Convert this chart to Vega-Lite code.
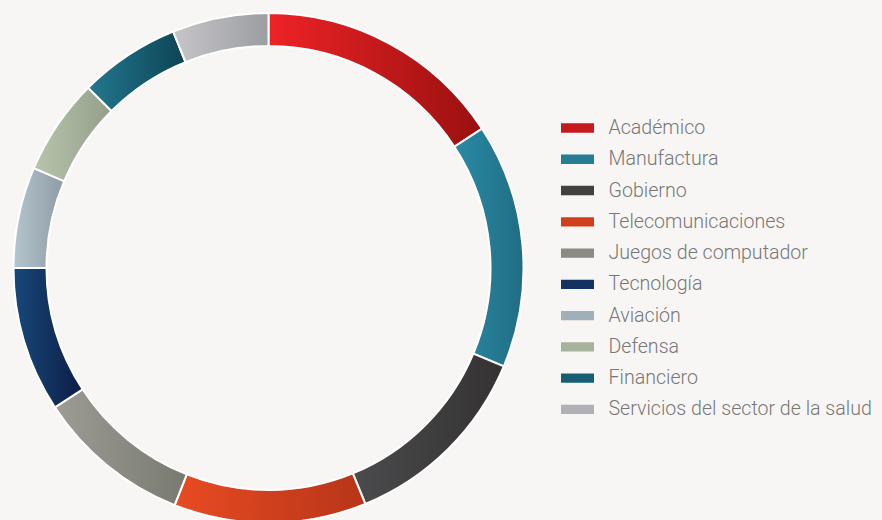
{
  "$schema": "https://vega.github.io/schema/vega-lite/v6.json",
  "autosize": {"type": "none"},
  "width": 537,
  "height": 504,
  "padding": {"left": 0, "top": 16, "right": 345, "bottom": 0},
  "background": "#f7f6f4",
  "config": {"view": {"stroke": null}},
  "data": {
    "values": [
      {"sector": "Académico", "valor": 15.8, "orden": 1},
      {"sector": "Manufactura", "valor": 15.5, "orden": 2},
      {"sector": "Gobierno", "valor": 12.5, "orden": 3},
      {"sector": "Telecomunicaciones", "valor": 12.2, "orden": 4},
      {"sector": "Juegos de computador", "valor": 9.8, "orden": 5},
      {"sector": "Tecnología", "valor": 9.2, "orden": 6},
      {"sector": "Aviación", "valor": 6.4, "orden": 7},
      {"sector": "Defensa", "valor": 6.1, "orden": 8},
      {"sector": "Financiero", "valor": 6.4, "orden": 9},
      {"sector": "Servicios del sector de la salud", "valor": 6.1, "orden": 10}
    ]
  },
  "mark": {"type": "arc", "outerRadius": 255, "innerRadius": 222, "stroke": "#ffffff", "strokeWidth": 2},
  "encoding": {
    "theta": {"field": "valor", "type": "quantitative", "stack": true},
    "order": {"field": "orden", "type": "quantitative"},
    "fill": {
      "field": "sector",
      "type": "nominal",
      "condition": [
        {"test": "datum.sector === 'Académico'", "value": {"gradient": "linear", "x1": 0, "y1": 0, "x2": 1, "y2": 0, "stops": [{"offset": 0, "color": "#ee2326"}, {"offset": 1, "color": "#9a1010"}]}},
        {"test": "datum.sector === 'Manufactura'", "value": {"gradient": "linear", "x1": 0, "y1": 0, "x2": 1, "y2": 0, "stops": [{"offset": 0, "color": "#2b8aa6"}, {"offset": 1, "color": "#1f6d83"}]}},
        {"test": "datum.sector === 'Gobierno'", "value": {"gradient": "linear", "x1": 0, "y1": 0, "x2": 1, "y2": 0, "stops": [{"offset": 0, "color": "#4b4b4d"}, {"offset": 1, "color": "#343232"}]}},
        {"test": "datum.sector === 'Telecomunicaciones'", "value": {"gradient": "linear", "x1": 0, "y1": 0, "x2": 1, "y2": 0, "stops": [{"offset": 0, "color": "#e84b22"}, {"offset": 1, "color": "#b73519"}]}},
        {"test": "datum.sector === 'Juegos de computador'", "value": {"gradient": "linear", "x1": 0, "y1": 0, "x2": 1, "y2": 0, "stops": [{"offset": 0, "color": "#9d9c95"}, {"offset": 1, "color": "#787a70"}]}},
        {"test": "datum.sector === 'Tecnología'", "value": {"gradient": "linear", "x1": 0, "y1": 0, "x2": 1, "y2": 0, "stops": [{"offset": 0, "color": "#17487a"}, {"offset": 1, "color": "#0d1d45"}]}},
        {"test": "datum.sector === 'Aviación'", "value": {"gradient": "linear", "x1": 0, "y1": 0, "x2": 1, "y2": 0, "stops": [{"offset": 0, "color": "#b5c5cc"}, {"offset": 1, "color": "#8d9ba5"}]}},
        {"test": "datum.sector === 'Defensa'", "value": {"gradient": "linear", "x1": 0, "y1": 0, "x2": 1, "y2": 0, "stops": [{"offset": 0, "color": "#b9c4ab"}, {"offset": 1, "color": "#939f8b"}]}},
        {"test": "datum.sector === 'Financiero'", "value": {"gradient": "linear", "x1": 0, "y1": 0, "x2": 1, "y2": 0, "stops": [{"offset": 0, "color": "#23788f"}, {"offset": 1, "color": "#0d4454"}]}},
        {"test": "datum.sector === 'Servicios del sector de la salud'", "value": {"gradient": "linear", "x1": 0, "y1": 0, "x2": 1, "y2": 0, "stops": [{"offset": 0, "color": "#c6c6c9"}, {"offset": 1, "color": "#9c9da1"}]}}
      ],
      "scale": {
        "domain": ["Académico", "Manufactura", "Gobierno", "Telecomunicaciones", "Juegos de computador", "Tecnología", "Aviación", "Defensa", "Financiero", "Servicios del sector de la salud"],
        "range": ["#c41a1b", "#257c95", "#404040", "#d0401e", "#8b8b83", "#12335f", "#a1b0b8", "#a6b29b", "#185e72", "#b1b1b5"]
      },
      "legend": {
        "orient": "none",
        "legendX": 567.5,
        "legendY": 102,
        "title": null,
        "padding": 0,
        "symbolType": "M-1.65,-0.465H1.65V0.465H-1.65Z",
        "symbolSize": 400,
        "symbolStrokeWidth": 0,
        "symbolOpacity": 1,
        "labelFont": "Roboto",
        "labelFontWeight": 300,
        "labelFontSize": 19.6,
        "labelColor": "#777777",
        "labelOffset": 21,
        "rowPadding": 11.26,
        "labelLimit": 400,
        "encode": {
          "symbols": {
            "fill": {
              "condition": [
                {"test": "datum.value === 'Académico'", "value": {"gradient": "linear", "x1": 0, "y1": 0, "x2": 1, "y2": 0, "stops": [{"offset": 0, "color": "#ee2326"}, {"offset": 1, "color": "#9a1010"}]}},
                {"test": "datum.value === 'Manufactura'", "value": {"gradient": "linear", "x1": 0, "y1": 0, "x2": 1, "y2": 0, "stops": [{"offset": 0, "color": "#2b8aa6"}, {"offset": 1, "color": "#1f6d83"}]}},
                {"test": "datum.value === 'Gobierno'", "value": {"gradient": "linear", "x1": 0, "y1": 0, "x2": 1, "y2": 0, "stops": [{"offset": 0, "color": "#4b4b4d"}, {"offset": 1, "color": "#343232"}]}},
                {"test": "datum.value === 'Telecomunicaciones'", "value": {"gradient": "linear", "x1": 0, "y1": 0, "x2": 1, "y2": 0, "stops": [{"offset": 0, "color": "#e84b22"}, {"offset": 1, "color": "#b73519"}]}},
                {"test": "datum.value === 'Juegos de computador'", "value": {"gradient": "linear", "x1": 0, "y1": 0, "x2": 1, "y2": 0, "stops": [{"offset": 0, "color": "#9d9c95"}, {"offset": 1, "color": "#787a70"}]}},
                {"test": "datum.value === 'Tecnología'", "value": {"gradient": "linear", "x1": 0, "y1": 0, "x2": 1, "y2": 0, "stops": [{"offset": 0, "color": "#17487a"}, {"offset": 1, "color": "#0d1d45"}]}},
                {"test": "datum.value === 'Aviación'", "value": {"gradient": "linear", "x1": 0, "y1": 0, "x2": 1, "y2": 0, "stops": [{"offset": 0, "color": "#b5c5cc"}, {"offset": 1, "color": "#8d9ba5"}]}},
                {"test": "datum.value === 'Defensa'", "value": {"gradient": "linear", "x1": 0, "y1": 0, "x2": 1, "y2": 0, "stops": [{"offset": 0, "color": "#b9c4ab"}, {"offset": 1, "color": "#939f8b"}]}},
                {"test": "datum.value === 'Financiero'", "value": {"gradient": "linear", "x1": 0, "y1": 0, "x2": 1, "y2": 0, "stops": [{"offset": 0, "color": "#23788f"}, {"offset": 1, "color": "#0d4454"}]}}
              ],
              "value": {"gradient": "linear", "x1": 0, "y1": 0, "x2": 1, "y2": 0, "stops": [{"offset": 0, "color": "#c6c6c9"}, {"offset": 1, "color": "#9c9da1"}]}
            }
          }
        }
      }
    }
  }
}
